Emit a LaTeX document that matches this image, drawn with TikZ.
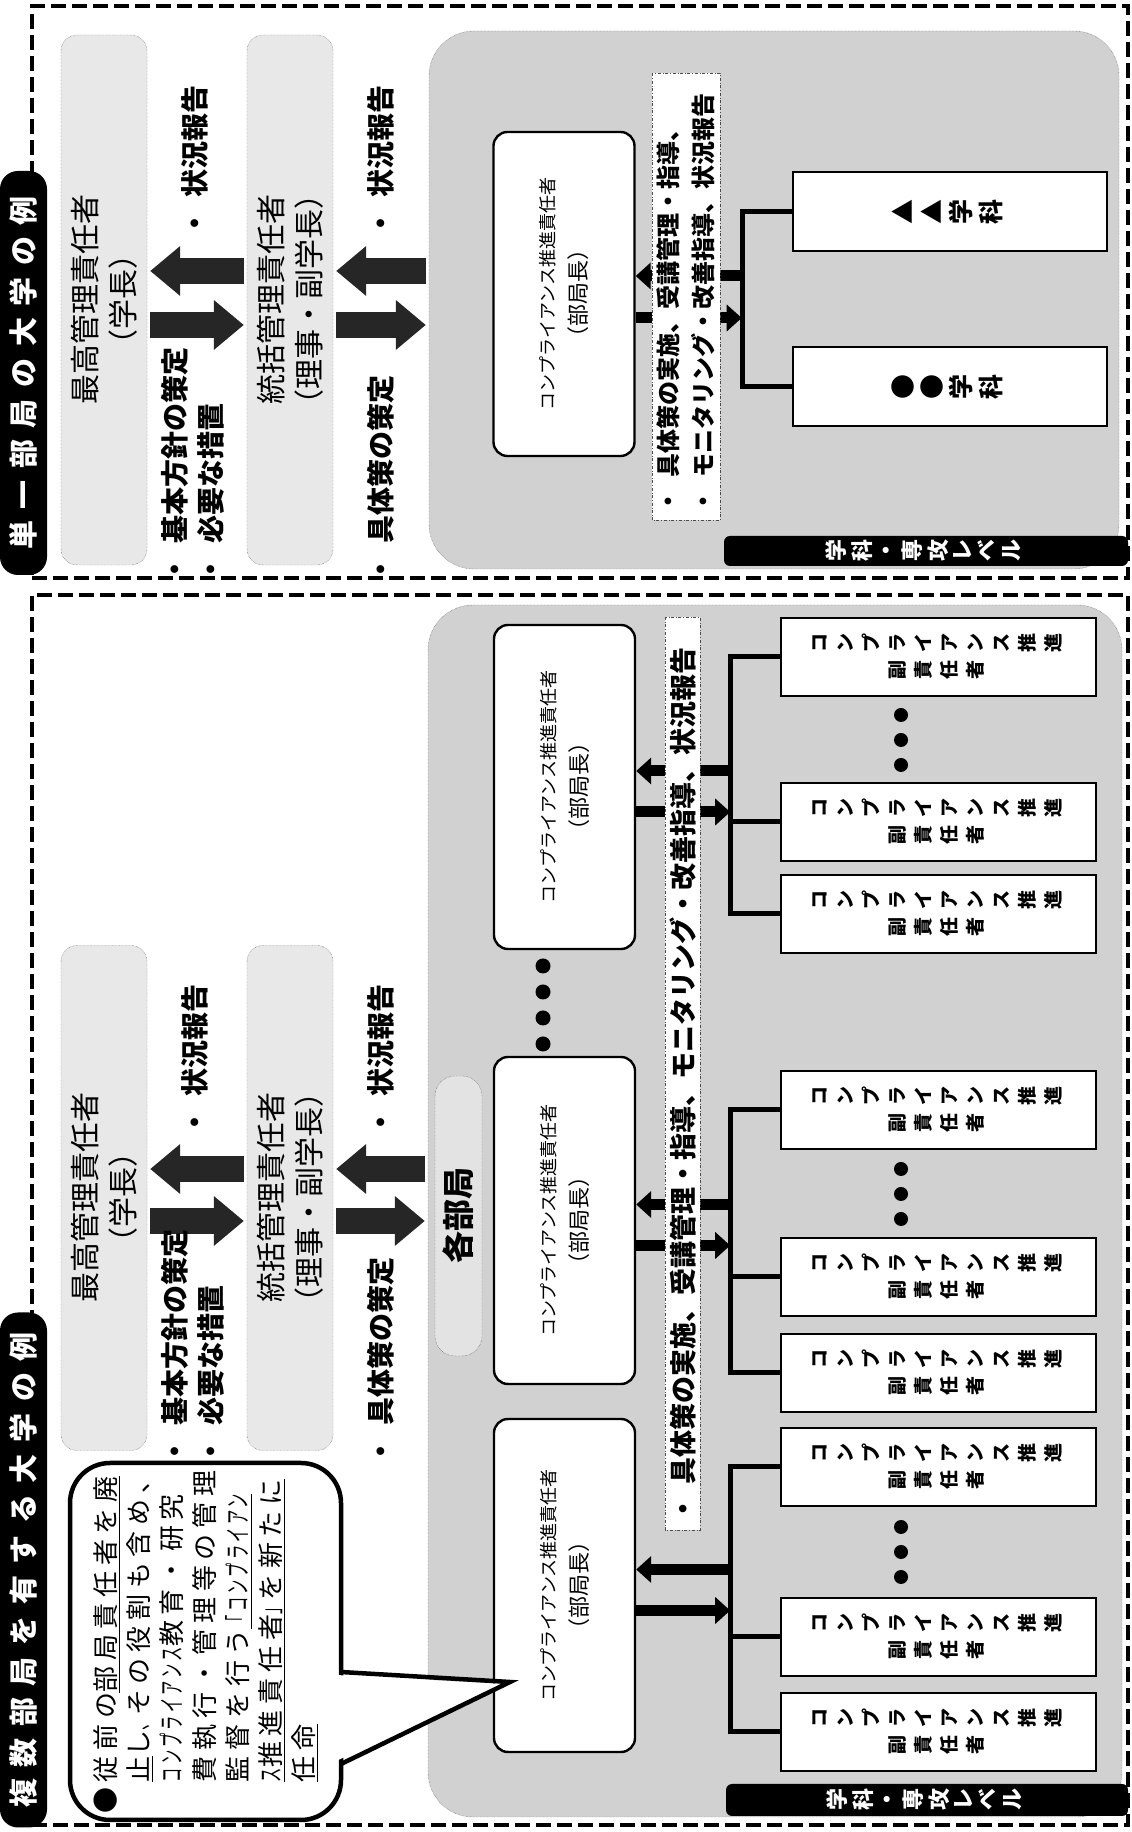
\documentclass[tikz,border=0pt]{standalone}
\usepackage{fontspec}
\usepackage{graphicx}
\setmainfont{Noto Sans CJK JP}
\newfontfamily\titlefont{Noto Sans CJK JP}[LetterSpace=40]
\newfontfamily\bubblefont{Noto Sans CJK JP}[LetterSpace=22]
\usetikzlibrary{arrows.meta,calc}

\newcommand{\tate}[1]{\begin{tabular}{@{}c@{}}#1\end{tabular}}
\newcommand{\bul}{・\hspace{12pt}}
\newcommand{\kana}[1]{\scalebox{0.55}[1]{#1}}
\newcommand{\sen}[1]{\setbox0\hbox{#1}\rlap{\rule[-5pt]{\wd0}{1.6pt}}\box0}
\newcommand{\fuku}{\tate{副\\責\\任\\者}\hspace{8pt}\tate{コ\\ン\\プ\\ラ\\イ\\ア\\ン\\ス\\推\\進}}
\newcommand{\cprtext}{{\fontsize{18}{32}\selectfont コンプライアンス推進責任者}\\（部局長）}
\newcommand{\levtext}{\tate{学\\科\\・\\専\\攻\\レ\\ベ\\ル}}

\tikzset{
  sectframe/.style={line width=4pt, dash pattern=on 15pt off 6pt},
  pill/.style={fill=black, text=white, rounded corners=18pt, inner sep=0pt, font=\titlefont\bfseries\fontsize{29}{32}\selectfont},
  topbox/.style={draw=black!75, densely dotted, fill=black!9, rounded corners=16pt, align=center, font=\fontsize{30}{38}\selectfont},
  region/.style={draw=black!75, densely dotted, fill=black!18, rounded corners=45pt},
  unitbox/.style={draw=black!75, densely dotted, fill=black!11, rounded corners=20pt, font=\bfseries\fontsize{32}{34}\selectfont},
  notetext/.style={anchor=west, inner sep=0pt, font=\bfseries\fontsize{28}{34}\selectfont},
  cprbox/.style={draw, line width=2.4pt, fill=white, rounded corners=14pt, align=center, font=\fontsize{22}{32}\selectfont},
  strip/.style={draw=black!70, dash dot, fill=white, align=left, inner xsep=7pt, inner ysep=2pt, font=\bfseries\fontsize{24}{35}\selectfont},
  subbox/.style={draw, line width=2pt, fill=white, inner sep=0pt, font=\bfseries\fontsize{19}{26}\selectfont},
  gakkabox/.style={draw, line width=2pt, fill=white, inner sep=0pt, font=\bfseries\fontsize{25}{27}\selectfont},
  levelbar/.style={fill=black, text=white, rounded corners=6pt, inner sep=0pt, font=\bfseries\fontsize{22}{24}\selectfont},
  bigarrow/.style={line width=26pt, draw=black!85, shorten <=3pt, shorten >=3pt, -{Triangle[length=30pt,width=48pt]}},
  smallarrow/.style={line width=11pt, -{Triangle[length=15pt,width=26pt]}},
  bracketline/.style={line width=5pt},
  bubble/.style={draw, line width=4.5pt, fill=white, rounded corners=40pt, outer sep=0pt},
  bubbletext/.style={anchor=north west, inner sep=0pt, align=left, font=\bubblefont\fontsize{26}{33}\selectfont}
}

\begin{document}
\begin{tikzpicture}[x=1pt,y=1pt,rotate=90,transform shape]
\useasboundingbox (0,0) rectangle (1832,-1132);
\fill[white] (0,0) rectangle (1832,-1132);

\draw[sectframe] (1254,-32) rectangle (1826,-1128);
\draw[sectframe] (7,-32) rectangle (1237,-1128);

\node[region, minimum width=538pt, minimum height=690pt] (regA) at (1532,-774) {};
\node[region, minimum width=1212pt, minimum height=694pt] (regB) at (621,-775) {};

\node[pill, minimum width=404pt, minimum height=47pt] (titleA) at (1459,-23.5) {単一部局の大学の例};
\node[topbox, minimum width=530pt, minimum height=86pt] (topA) at (1532,-104) {最高管理責任者\\（学長）};
\node[topbox, minimum width=530pt, minimum height=86pt] (midA) at (1532,-290) {統括管理責任者\\（理事・副学長）};
\draw[bigarrow] ($(midA.north)+(29,0)$) -- ($(topA.south)+(29,0)$);
\draw[bigarrow] ($(topA.south)+(-25,0)$) -- ($(midA.north)+(-25,0)$);
\draw[bigarrow] ($(regA.north)+(29,0)$) -- ($(midA.south)+(29,0)$);
\draw[bigarrow] ($(midA.south)+(-25,0)$) -- ($(regA.north)+(-25,0)$);
\node[notetext] (kihonA) at (1248,-175) {\bul 基本方針の策定};
\node[notetext] (hitsuyoA) at (1248,-211) {\bul 必要な措置};
\node[notetext] (jokyoA) at (1594,-195) {\bul 状況報告};
\node[notetext] (gutaiA) at (1248,-381) {\bul 具体策の策定};
\node[notetext] (jokyoA2) at (1594,-381) {\bul 状況報告};

\node[cprbox, minimum width=324pt, minimum height=141pt] (cprA) at (1538,-564) {\cprtext};
\node[gakkabox, minimum width=79pt, minimum height=314pt] (gakkaA1) at (1620,-950) {\tate{▲\\▲\\学\\科}};
\node[gakkabox, minimum width=79pt, minimum height=314pt] (gakkaA2) at (1445,-950) {\tate{●\\●\\学\\科}};
\draw[bracketline] (gakkaA1.north) -- ++(0,50) -- ($(gakkaA2.north)+(0,50)$) -- (gakkaA2.north);
\draw[smallarrow] ($(cprA.south)+(18,-109)$) -- ($(cprA.south)+(18,0)$);
\draw[smallarrow] ($(cprA.south)+(-24,0)$) -- ($(cprA.south)+(-24,-106)$);
\node[strip, minimum height=68pt, text width=433pt] (stripA) at (1535,-686) {\bul 具体策の実施、受講管理・指導、\\\bul モニタリング・改善指導、状況報告};
\node[levelbar, minimum width=30pt, minimum height=404pt] (levelA) at (1281,-926) {\levtext};

\node[pill, minimum width=515pt, minimum height=47pt] (titleB) at (262,-23.5) {複数部局を有する大学の例};
\node[topbox, minimum width=505pt, minimum height=86pt] (topB) at (634,-104) {最高管理責任者\\（学長）};
\node[topbox, minimum width=505pt, minimum height=86pt] (midB) at (634,-290) {統括管理責任者\\（理事・副学長）};
\node[unitbox, minimum width=280pt, minimum height=47pt] (unitB) at (616,-458.5) {各部局};
\draw[bigarrow] ($(midB.north)+(29,0)$) -- ($(topB.south)+(29,0)$);
\draw[bigarrow] ($(topB.south)+(-23,0)$) -- ($(midB.north)+(-23,0)$);
\draw[bigarrow] ($(regB.north)+(42,0)$) -- ($(midB.south)+(29,0)$);
\draw[bigarrow] ($(midB.south)+(-23,0)$) -- ($(regB.north)+(-10,0)$);
\node[notetext] (kihonB) at (366,-175) {\bul 基本方針の策定};
\node[notetext] (hitsuyoB) at (366,-211) {\bul 必要な措置};
\node[notetext] (jokyoB) at (695,-195) {\bul 状況報告};
\node[notetext] (gutaiB) at (366,-381) {\bul 具体策の策定};
\node[notetext] (jokyoB2) at (695,-381) {\bul 状況報告};

\node[cprbox, minimum width=333pt, minimum height=141pt] (cprB1) at (246.5,-564.5) {\cprtext};
\node[cprbox, minimum width=327pt, minimum height=141pt] (cprB2) at (611.5,-564.5) {\cprtext};
\node[cprbox, minimum width=324pt, minimum height=141pt] (cprB3) at (1045,-564.5) {\cprtext};
\foreach \p in {788,814,840,866}
  \fill (\p,-543) circle (7.5);

\foreach \p [count=\i] in {1175,1010,918,722,555,459,365,195,100}
  \node[subbox, minimum width=78pt, minimum height=315pt] (sub\i) at (\p,-938.5) {\fuku};
\foreach \a/\b/\m in {1/3/2,4/6/5,7/9/8} {
  \draw[bracketline] (sub\a.north) -- ++(0,50) -- ($(sub\b.north)+(0,50)$) -- (sub\b.north);
  \draw[bracketline] (sub\m.north) -- ++(0,50);
}
\foreach \g in {1092,638,280}
  \foreach \d in {-25,0,25}
    \fill (\g+\d,-901) circle (7);
\foreach \k in {1,2,3} {
  \draw[smallarrow] ($(cprB\k.south)+(16,-96.5)$) -- ($(cprB\k.south)+(16,0)$);
  \draw[smallarrow] ($(cprB\k.south)+(-25,0)$) -- ($(cprB\k.south)+(-25,-94)$);
}
\node[strip, minimum height=35pt, text width=899pt, font=\bfseries\fontsize{27}{30}\selectfont] (stripB) at (758.5,-682.5) {\bul 具体策の実施、受講管理・指導、モニタリング・改善指導、状況報告};
\node[levelbar, minimum width=32pt, minimum height=402pt] (levelB) at (32,-927) {\levtext};

\node[bubble, minimum width=357pt, minimum height=271pt] (note) at (190.5,-205.5) {};
\fill[white] ($(note.south west)+(145,5)$) -- ($(note.south west)+(136,-164)$) -- ($(note.south west)+(59,5)$) -- cycle;
\draw[line width=4.5pt] ($(note.south west)+(148,0)$) -- ($(note.south west)+(138,-169)$) -- ($(note.south west)+(56,0)$);
\node[bubbletext] (notebody) at (18,-93) {●従前の\sen{部局責任者を廃}\\
\hspace*{31.7pt}\sen{止}し\kana{、}その役割も含め、\\
\hspace*{31.7pt}\kana{コンプライアンス}教育・研究\\
\hspace*{31.7pt}費執行・管理等の管理\\
\hspace*{31.7pt}監督を行う\sen{\kana{「コンプライアン}}\\
\hspace*{31.7pt}\sen{\kana{ス}推進責任者\kana{」}を新たに}\\
\hspace*{31.7pt}\sen{任命}};
\end{tikzpicture}
\end{document}
